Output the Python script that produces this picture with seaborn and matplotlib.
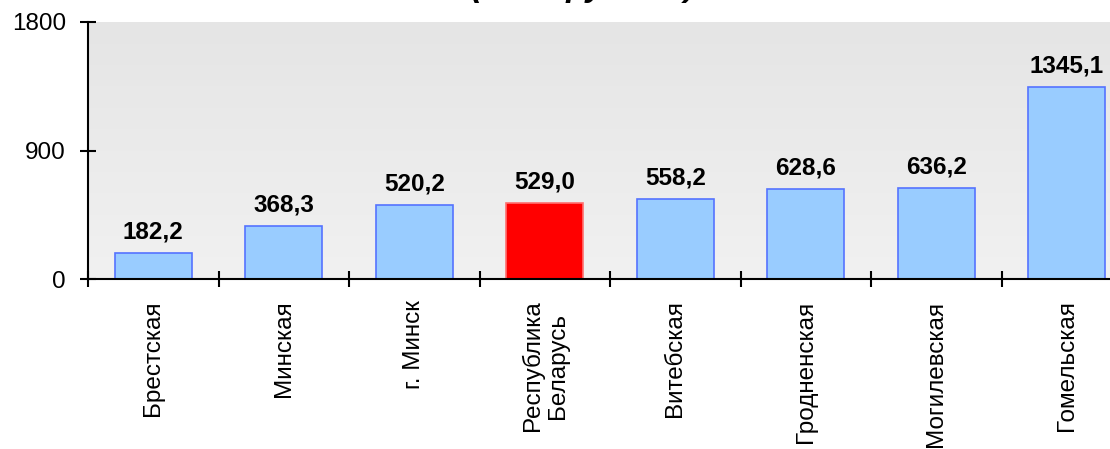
import numpy as np
import pandas as pd
import matplotlib
matplotlib.use("Agg")
import matplotlib.pyplot as plt
from matplotlib.colors import LinearSegmentedColormap
import seaborn as sns

categories = ["Брестская", "Минская", "г. Минск", "Республика\nБеларусь",
              "Витебская", "Гродненская", "Могилевская", "Гомельская"]
values = [182.2, 368.3, 520.2, 529.0, 558.2, 628.6, 636.2, 1345.1]
highlight = "Республика\nБеларусь"
y_ticks = [0, 900, 1800]
title = "(млн. рублей)"

sns.set_theme(style="white")
plt.rcParams['font.family'] = ['Liberation Sans', 'DejaVu Sans']

df = pd.DataFrame({"region": categories, "value": values})
palette = {c: ("#ff0000" if c == highlight else "#99ccff") for c in categories}

W, H = 1110, 449
fig = plt.figure(figsize=(W / 100, H / 100), dpi=100)
pos = [88 / W, 1 - 279 / H, 1044 / W, 257 / H]

bg = fig.add_axes(pos, zorder=0)
grad = np.linspace(0, 1, 256).reshape(-1, 1)
bg.imshow(grad, extent=[0, 1, 0, 1], origin='lower', aspect='auto',
          cmap=LinearSegmentedColormap.from_list('g', ['#f1f1f1', '#e5e5e5']))
bg.set_axis_off()

ax = fig.add_axes(pos, zorder=1)
ax.set_facecolor('none')
sns.barplot(data=df, x="region", y="value", hue="region", palette=palette,
            legend=False, width=0.59, saturation=1, linewidth=1.2, ax=ax)
for p, c in zip(ax.patches, categories):
    p.set_edgecolor('#ff7070' if c == highlight else '#5573ff')

for cont in ax.containers:
    ax.bar_label(cont, labels=[f"{v:.1f}".replace(".", ",") for v in cont.datavalues],
                 padding=7, fontsize=17.5, fontweight='bold', color='black')

ax.set_xlim(-0.5, 7.5)
ax.set_ylim(0, 1800)
ax.set_yticks(y_ticks)
ax.set_yticklabels([str(t) for t in y_ticks])
ax.set_xticks(range(len(categories)))
ax.set_xticklabels(categories, rotation=90, multialignment='center')
ax.set_xticks(np.arange(-0.5, len(categories) - 0.5, 1), minor=True)
ax.set_xlabel("")
ax.set_ylabel("")

ax.tick_params(axis='y', which='major', direction='inout', length=12, width=1.5,
               color='black', labelsize=17.5, pad=10, left=True, labelcolor='black')
ax.tick_params(axis='x', which='major', length=0, labelsize=17.5, pad=15.5,
               labelcolor='black', bottom=True)
ax.tick_params(axis='x', which='minor', direction='inout', length=12, width=1.5,
               color='black', bottom=True)

for s in ['top', 'right']:
    ax.spines[s].set_visible(False)
for s in ['left', 'bottom']:
    ax.spines[s].set_visible(True)
    ax.spines[s].set_color('black')
    ax.spines[s].set_linewidth(1.5)

fig.text(583 / W, 1 + 4 / H, title, ha='center', va='baseline', fontsize=24,
         fontweight='bold', style='italic', color='black')

fig.savefig('out.png', dpi=100)
